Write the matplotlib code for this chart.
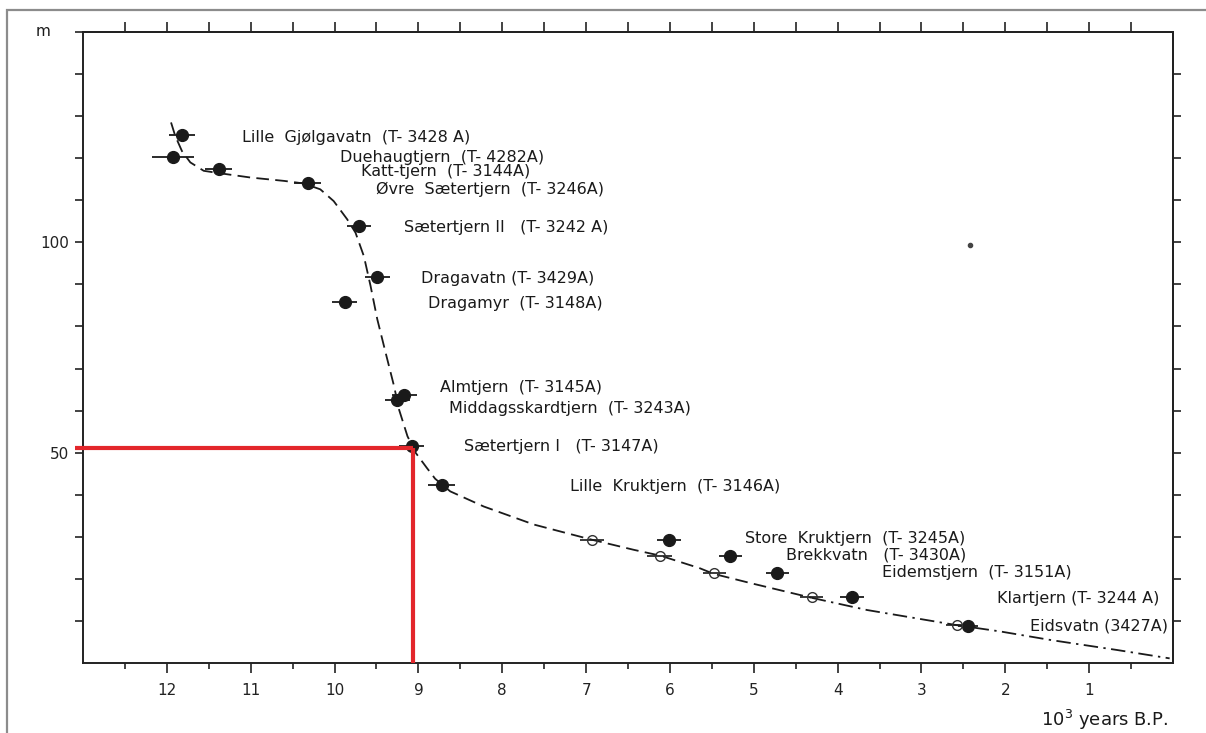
import numpy as np
import matplotlib.pyplot as plt
from matplotlib.patches import Rectangle

plt.rcParams.update({"font.family": "DejaVu Sans", "font.size": 11,
                     "axes.linewidth": 1.4, "xtick.color": "#222", "ytick.color": "#222"})
INK = "#1a1a1a"; RED = "#e3262b"

# dated basins: age (10^3 yr BP), isolation level (m a.s.l.), age error
names = ["Lille  Gjølgavatn  (T- 3428 A)", "Duehaugtjern  (T- 4282A)", "Katt-tjern  (T- 3144A)",
         "Øvre  Sætertjern  (T- 3246A)", "Sætertjern II   (T- 3242 A)", "Dragavatn (T- 3429A)",
         "Dragamyr  (T- 3148A)", "Almtjern  (T- 3145A)", "Middagsskardtjern  (T- 3243A)",
         "Sætertjern I   (T- 3147A)", "Lille  Kruktjern  (T- 3146A)", "Store  Kruktjern  (T- 3245A)",
         "Brekkvatn   (T- 3430A)", "Eidemstjern  (T- 3151A)", "Klartjern (T- 3244 A)",
         "Eidsvatn (3427A)"]
age = [11.82, 11.93, 11.38, 10.32, 9.71, 9.49, 9.88, 9.17, 9.25, 9.08, 8.72,
       6.01, 5.28, 4.72, 3.83, 2.44]
elev = [125.5, 120.3, 117.4, 114.2, 103.9, 91.8, 85.9, 63.8, 62.6, 51.7, 42.4,
        29.3, 25.5, 21.5, 15.8, 8.9]
age_err = [0.15, 0.25, 0.16, 0.16, 0.14, 0.15, 0.15, 0.15, 0.15, 0.15, 0.16,
           0.14, 0.14, 0.14, 0.14, 0.12]

# corrected ages (open circles)
open_age = [6.93, 6.12, 5.47, 4.31, 2.58]
open_elev = [29.2, 25.5, 21.3, 15.6, 9.0]
open_err = [0.14, 0.15, 0.14, 0.14, 0.13]

# shoreline displacement curve
curve_age = [11.95, 11.90, 11.82, 11.72, 11.56, 11.36, 11.0, 10.60, 10.37, 10.17, 10.01,
             9.85, 9.75, 9.65, 9.57, 9.49, 9.39, 9.29, 9.23, 9.13, 9.03, 8.90, 8.80,
             8.62, 8.22, 7.62, 6.93, 6.43, 6.11, 5.64, 5.48, 5.04, 4.31,
             3.65, 2.58, 2.06, 1.47, 0.67, 0.04]
curve_elev = [128.5, 125.3, 121.7, 119.0, 117.0, 116.4, 115.4, 114.6, 114.0, 112.6, 109.8,
              105.5, 102.3, 96.7, 89.6, 81.7, 73.7, 65.8, 60.2, 53.9, 49.9, 46.4, 43.8,
              40.8, 37.2, 32.9, 29.3, 26.9, 25.5, 22.5, 21.2, 19.0, 15.5,
              12.6, 9.0, 7.5, 5.5, 3.1, 1.1]
split_age = 4.31  # dashed -> dash-dot

red_age, red_elev = 9.07, 51.0
stray_age, stray_elev = 2.42, 99.4

# label anchor positions (layout)
lab_x = [11.10, 9.94, 9.69, 9.51, 9.17, 8.97, 8.88, 8.74, 8.63, 8.46, 7.19,
         5.11, 4.61, 3.47, 2.10, 1.70]
lab_y = [125.0, 120.2, 116.8, 112.5, 103.5, 91.4, 85.5, 65.4, 60.6, 51.4, 42.0,
         29.7, 25.7, 21.5, 15.4, 8.8]

W, H = 1206, 733
fig = plt.figure(figsize=(W / 100, H / 100), dpi=100)
fig.patches.append(Rectangle((7 / W, -0.05), 1.1, 1 - 10 / H + 0.05, transform=fig.transFigure,
                             fill=False, ec="#8c8c8c", lw=1.6))
ax = fig.add_axes([83 / W, 70 / H, 1090 / W, 631 / H])
for s in ax.spines.values():
    s.set_color("#222")

cx = np.array(curve_age); cy = np.array(curve_elev)
m = cx >= split_age
ax.plot(cx[m], cy[m], color=INK, lw=1.3, dashes=(7, 3.5))
ax.plot(cx[cx <= split_age], cy[cx <= split_age], color=INK, lw=1.3, dashes=(8, 3, 1.3, 3))

ax.errorbar(age, elev, xerr=age_err, fmt="o", color=INK, ms=8.5, elinewidth=1.3, capsize=0, zorder=3)
ax.errorbar(open_age, open_elev, xerr=open_err, fmt="o", color=INK, mfc="none", mec="#333",
            ms=7, mew=1.0, elinewidth=1.2, capsize=0, zorder=3)
ax.plot([stray_age], [stray_elev], "o", color="#444", ms=3)

for n, x, y in zip(names, lab_x, lab_y):
    ax.text(x, y, n, fontsize=11.5, color=INK, ha="left", va="center")

ax.plot([13.1, red_age], [red_elev, red_elev], color=RED, lw=3, clip_on=False,
        solid_capstyle="butt", zorder=5)
ax.plot([red_age, red_age], [red_elev, 0], color=RED, lw=3, clip_on=False,
        solid_capstyle="butt", zorder=5)

ax.set_xlim(13, 0); ax.set_ylim(0, 150)
ax.set_xticks(range(1, 13)); ax.set_xticks(np.arange(0.5, 13, 1), minor=True)
ax.tick_params(axis="x", which="major", direction="out", length=7.5, width=1.2, labelsize=11, pad=7)
ax.tick_params(axis="x", which="minor", direction="out", length=4.5, width=1.2)
ax.set_yticks(range(10, 151, 10))
ax.set_yticklabels([str(v) if v in (50, 100) else "" for v in range(10, 151, 10)])
ax.tick_params(axis="y", direction="out", length=6, width=1.2, labelsize=11, pad=4)

right = ax.secondary_yaxis("right")
right.set_yticks(range(10, 150, 10))
right.tick_params(direction="out", length=6, width=1.2, labelright=False)
right.spines["right"].set_color("#222")

top = ax.secondary_xaxis("top")
top.set_xticks(np.arange(0.5, 13, 0.5))
top.tick_params(direction="out", length=7, width=1.2, labeltop=False)
top.spines["top"].set_color("#222")

fig.text(43 / W, 1 - 31 / H, "m", fontsize=11, ha="center", va="center", color=INK)
fig.text(1168 / W, 1 - 720 / H, "10$^3$ years B.P.", fontsize=13, ha="right", va="center", color=INK)

fig.savefig("out.png", dpi=100)
